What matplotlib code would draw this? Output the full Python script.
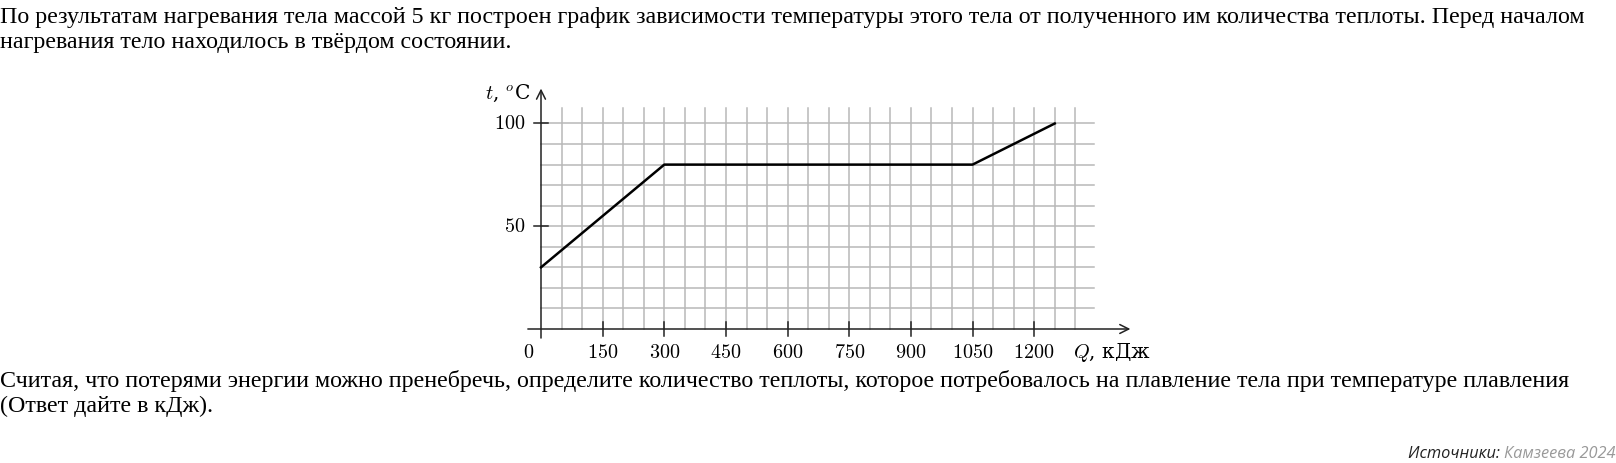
import matplotlib
matplotlib.use("Agg")
import matplotlib.pyplot as plt

# --- dados do gráfico ---
q_pts = [0, 300, 1050, 1250]          # Q, кДж
t_pts = [30, 80, 80, 100]             # t, °C
x_ticks = [150, 300, 450, 600, 750, 900, 1050, 1200]
x_labels = ["150", "300", "450", "600", "750", "900", "1050", "1200"]
y_ticks = [50, 100]
grid_q = list(range(50, 1301, 50))
grid_t = list(range(10, 101, 10))

texto_topo = [
    "По результатам нагревания тела массой 5 кг построен график зависимости температуры этого тела от полученного им количества теплоты. Перед началом",
    "нагревания тело находилось в твёрдом состоянии.",
]
texto_baixo = [
    "Считая, что потерями энергии можно пренебречь, определите количество теплоты, которое потребовалось на плавление тела при температуре плавления",
    "(Ответ дайте в кДж).",
]

plt.rcParams['mathtext.fontset'] = 'cm'

W, H = 1616, 463
fig = plt.figure(figsize=(W / 100, H / 100), dpi=100)

# --- eixo em pixels: origem em (541, 329), 50 кДж = 10 °C = 20.55 px ---
x0, y0 = 541, 329
sx = 20.55 / 50
sy = 20.55 / 10
L, R, T, B = 440, 1200, 60, 370
ax = fig.add_axes([L / W, 1 - B / H, (R - L) / W, (B - T) / H])
ax.set_xlim((L - x0) / sx, (R - x0) / sx)
ax.set_ylim((y0 - B) / sy, (y0 - T) / sy)
ax.axis('off')

# grade
cor_grade = '#b8b8b8'
for q in grid_q:
    ax.plot([q, q], [0, 107.5], color=cor_grade, lw=1.1, zorder=1)
for t in grid_t:
    ax.plot([0, 1345], [t, t], color=cor_grade, lw=1.1, zorder=1)

# eixos com setas
cor_eixo = '#222222'
ax.annotate('', xy=(1434, 0), xytext=(-32, 0),
            arrowprops=dict(arrowstyle='->', lw=1.1, color=cor_eixo, mutation_scale=16,
                            shrinkA=0, shrinkB=0), zorder=2)
ax.annotate('', xy=(0, 117), xytext=(0, -4.4),
            arrowprops=dict(arrowstyle='->', lw=1.1, color=cor_eixo, mutation_scale=16,
                            shrinkA=0, shrinkB=0), zorder=2)

# marcas
for q in x_ticks:
    ax.plot([q, q], [-3.6, 3.6], color=cor_eixo, lw=1.1, zorder=2)
for t in y_ticks:
    ax.plot([-18, 18], [t, t], color=cor_eixo, lw=1.1, zorder=2)

# rótulos
fs = 14.5
yl = -11.6
ax.text(-29, yl, "$0$", fontsize=fs, ha='center', va='center')
for q, lab in zip(x_ticks, x_labels):
    ax.text(q, yl, "$" + lab + "$", fontsize=fs, ha='center', va='center')
for t in y_ticks:
    ax.text(-39, t, "$%d$" % t, fontsize=fs, ha='right', va='center')
ax.text(-27, 114.8, "$t$, $^o$C", fontsize=fs, ha='right', va='center',
        family='DejaVu Serif')
ax.text(1294, yl, "$Q$, кДж", fontsize=fs, ha='left', va='center',
        family='DejaVu Serif')

# linha do gráfico
ax.plot(q_pts, t_pts, color='black', lw=1.8, zorder=3)

# --- textos ---
fts = 17.3
for i, linha in enumerate(texto_topo):
    fig.text(0, 1 - (23 + 25 * i) / H, linha, fontsize=fts, family='Liberation Serif',
             va='baseline', ha='left')
for i, linha in enumerate(texto_baixo):
    fig.text(0, 1 - (387 + 25 * i) / H, linha, fontsize=fts, family='Liberation Serif',
             va='baseline', ha='left')

fonte = fig.text(1, 1 - 458 / H, "Камзеева 2024", fontsize=11.8, family='Open Sans',
                 style='italic', color='#999999', ha='right', va='baseline')
ax.annotate("Источники: ", xy=(0, 0), xycoords=fonte, ha='right', va='bottom',
            fontsize=11.8, family='Open Sans', style='italic', color='#222222')

fig.savefig('out.png', dpi=100)
